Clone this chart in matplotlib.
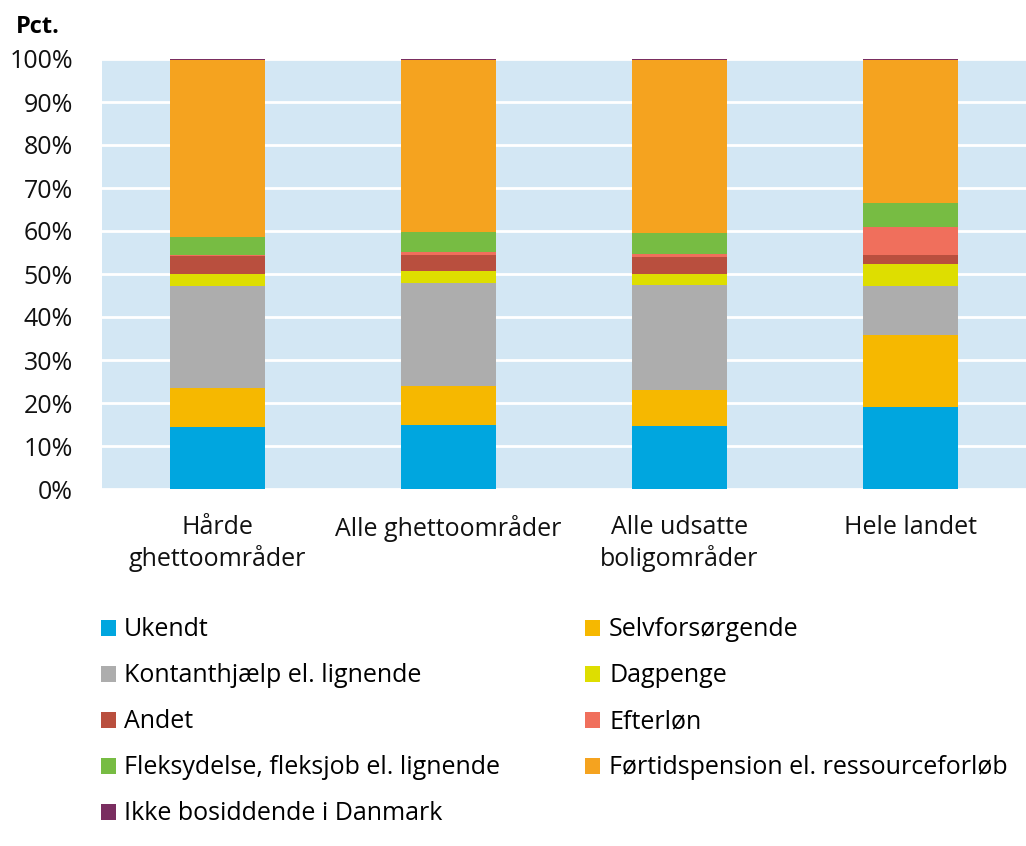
import matplotlib
matplotlib.use("Agg")
import matplotlib.pyplot as plt
from matplotlib.patches import Patch
from matplotlib.ticker import PercentFormatter
import numpy as np

plt.rcParams['font.family'] = ['Open Sans', 'DejaVu Sans']

categories = ["Hårde\nghettoområder", "Alle ghettoområder", "Alle udsatte\nboligområder", "Hele landet"]

series_names = ["Ukendt", "Selvforsørgende", "Kontanthjælp el. lignende", "Dagpenge", "Andet",
                "Efterløn", "Fleksydelse, fleksjob el. lignende",
                "Førtidspension el. ressourceforløb", "Ikke bosiddende i Danmark"]

ukendt = [14.4, 14.8, 14.7, 19.0]
selvforsorgende = [9.2, 9.2, 8.4, 16.8]
kontanthjaelp = [23.7, 23.8, 24.4, 11.5]
dagpenge = [2.6, 2.9, 2.6, 5.0]
andet = [4.2, 3.8, 3.8, 2.1]
efterlon = [0.3, 0.6, 0.7, 6.6]
fleksydelse = [4.2, 4.6, 5.0, 5.5]
fortidspension = [41.2, 40.0, 40.1, 33.2]
ikke_bosiddende = [0.2, 0.3, 0.3, 0.3]

colors = ["#00A6DF", "#F6B800", "#ADADAD", "#DEDE00", "#B94F3E",
          "#F06F5C", "#77BC43", "#F5A31F", "#7A2E60"]

series = [ukendt, selvforsorgende, kontanthjaelp, dagpenge, andet,
          efterlon, fleksydelse, fortidspension, ikke_bosiddende]

fig = plt.figure(figsize=(10.26, 8.46), dpi=100)
ax = fig.add_axes([102 / 1026, 1 - 489 / 846, 924 / 1026, 430 / 846])
ax.set_facecolor("#D3E7F4")

x = np.arange(len(categories))
bottom = np.zeros(len(categories))
for vals, col in zip(series, colors):
    ax.bar(x, vals, bottom=bottom, width=0.41, color=col, zorder=3)
    bottom += np.array(vals)

ax.set_ylim(0, 100)
ax.set_xlim(-0.5, 3.5)
ax.set_yticks(np.arange(0, 101, 10))
ax.yaxis.set_major_formatter(PercentFormatter(decimals=0))
ax.grid(axis='y', color='white', lw=2, zorder=1)
ax.set_xticks(x)
ax.set_xticklabels(categories, fontsize=18, linespacing=1.2)
ax.tick_params(axis='both', length=0, labelsize=18, colors='#111111')
ax.tick_params(axis='x', pad=19)
ax.tick_params(axis='y', pad=21)
for s in ax.spines.values():
    s.set_visible(False)

fig.text(16 / 1026, 1 - 27 / 846, "Pct.", fontsize=17, fontweight='bold', va='center', ha='left')

# legend: row-major order like the original -> column-major for matplotlib
order = [0, 2, 4, 6, 8, 1, 3, 5, 7]
handles = [Patch(facecolor=colors[i], edgecolor='none') for i in order]
labels = [series_names[i] for i in order]
fig.legend(handles, labels, loc='upper left', bbox_to_anchor=(78 / 1026, 1 - 595 / 846),
           ncol=2, frameon=False, fontsize=18, handlelength=0.6, handleheight=0.6,
           handletextpad=0.35, labelspacing=0.84, columnspacing=3.4)

fig.savefig("out.png", dpi=100, facecolor='white')
